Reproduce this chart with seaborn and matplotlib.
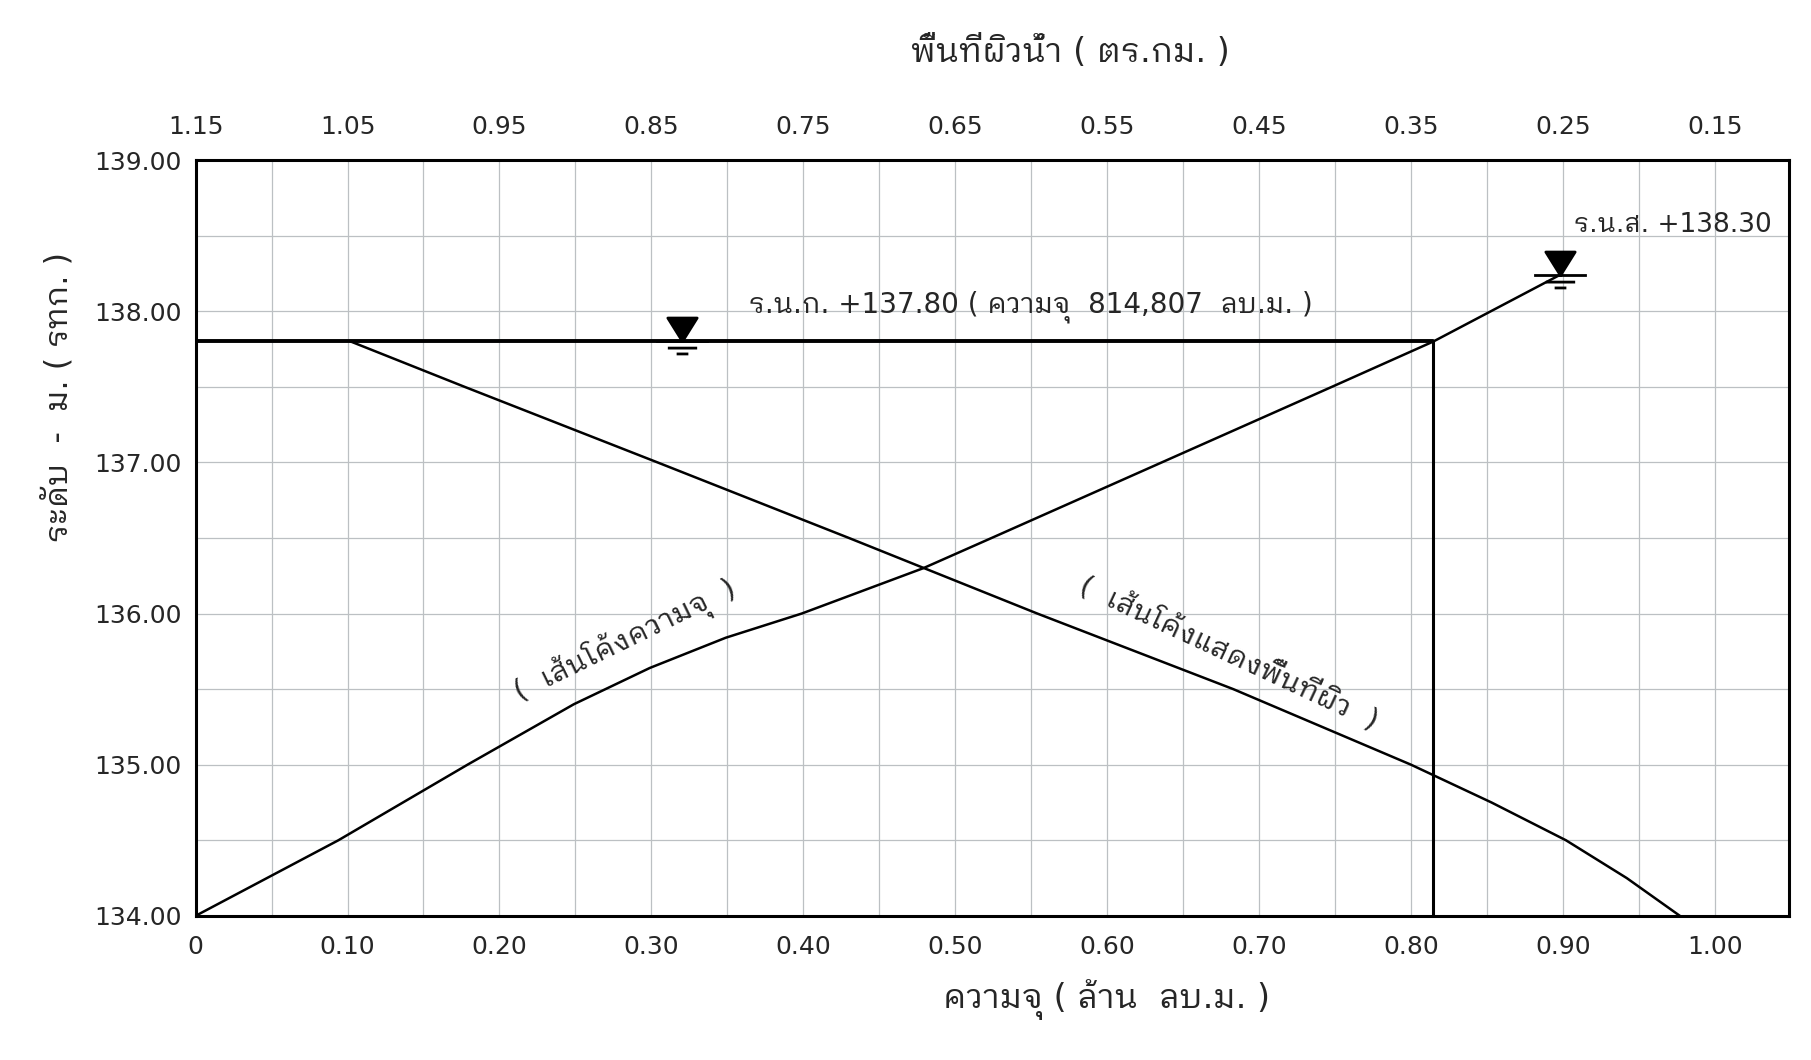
import numpy as np
import seaborn as sns
import matplotlib.pyplot as plt
from matplotlib import font_manager
from matplotlib.ft2font import FT2Font
from matplotlib.path import Path
from matplotlib.ticker import MultipleLocator, FormatStrFormatter

# ---- data ----
# capacity curve (million m3) vs level (m MSL)
cap_levels = [134.0, 134.5, 135.0, 135.4, 135.64, 135.84, 136.0, 136.3, 136.5,
              137.0, 137.5, 137.8, 138.24]
capacity = [0.0, 0.094, 0.179, 0.249, 0.299, 0.349, 0.399, 0.479, 0.524,
            0.636, 0.748, 0.8148, 0.898]

# water surface area curve (km2) vs level
area_levels = [134.0, 134.25, 134.5, 134.75, 135.0, 135.5, 136.0, 136.5, 137.0, 137.5, 137.8]
area = [0.173, 0.208, 0.248, 0.297, 0.350, 0.467, 0.596, 0.720, 0.846, 0.973, 1.048]

nrl_level = 137.80       # normal retention level
nrl_capacity = 0.8148    # 814,807 m3
mwl_level = 138.24       # where the max water level mark sits
mwl_capacity = 0.898
nrl_mark_x = 0.320

area_offset = 1.15       # top axis reads 1.15 - x
x_ticks = [0.0, 0.1, 0.2, 0.3, 0.4, 0.5, 0.6, 0.7, 0.8, 0.9, 1.0]
x_ticklabels = ["0", "0.10", "0.20", "0.30", "0.40", "0.50", "0.60", "0.70", "0.80", "0.90", "1.00"]
top_ticks = [1.15, 1.05, 0.95, 0.85, 0.75, 0.65, 0.55, 0.45, 0.35, 0.25, 0.15]
y_ticks = [134, 135, 136, 137, 138, 139]


def find_thai_font():
    names = []
    for f in font_manager.fontManager.ttflist:
        try:
            if 0x0E01 in FT2Font(f.fname).get_charmap():
                names.append(f.name)
        except Exception:
            pass
    prefer = ["Looped", "Loma", "Garuda", "Norasi", "Tlwg", "Thai"]

    def rank(n):
        for i, p in enumerate(prefer):
            if p in n:
                return (i, n)
        return (len(prefer), n)

    names.sort(key=rank)
    return names[0] if names else None


sns.set_theme(style="white")
thai = find_thai_font()
families = ["DejaVu Sans"]
if thai:
    families.append(thai)
plt.rcParams["font.family"] = families

fig = plt.figure(figsize=(18.11, 10.60), dpi=100)
ax = fig.add_axes([0.108, 0.136, 0.880, 0.713])

# grid
ax.xaxis.set_minor_locator(MultipleLocator(0.05))
ax.yaxis.set_minor_locator(MultipleLocator(0.5))
ax.grid(which="both", color="#bcc0c3", linewidth=0.9)
ax.set_axisbelow(True)

# curves
sns.lineplot(x=capacity, y=cap_levels, sort=False, estimator=None,
             color="black", linewidth=1.8, ax=ax)
area_x = [area_offset - a for a in area]
sns.lineplot(x=area_x, y=area_levels, sort=False, estimator=None,
             color="black", linewidth=1.8, ax=ax)

# normal retention level lines
ax.plot([0, nrl_capacity], [nrl_level, nrl_level], color="black", linewidth=2.8)
ax.plot([nrl_capacity, nrl_capacity], [134.0, nrl_level], color="black", linewidth=2.2)

# water level symbols (tip of the triangle at the level)
verts = [(-1, 1.6), (1, 1.6), (0, 0), (-1, 1.6),
         (-1.8, 0), (1.8, 0),
         (-1.0, -0.45), (1.0, -0.45),
         (-0.4, -0.85), (0.4, -0.85)]
codes = [Path.MOVETO, Path.LINETO, Path.LINETO, Path.CLOSEPOLY,
         Path.MOVETO, Path.LINETO,
         Path.MOVETO, Path.LINETO,
         Path.MOVETO, Path.LINETO]
wl_symbol = Path(verts, codes)
ax.plot([nrl_mark_x, mwl_capacity], [nrl_level, mwl_level], linestyle="none",
        marker=wl_symbol, markersize=38, color="black", markeredgewidth=2.0)

ax.text(0.364, 138.03, "ร.น.ก. +137.80 ( ความจุ  814,807  ลบ.ม. )",
        fontsize=20, ha="left", va="center")
ax.text(0.907, 138.57, "ร.น.ส. +138.30", fontsize=19, ha="left", va="center")
ax.text(0.283, 135.82, "(  เส้นโค้งความจุ  )", fontsize=21, rotation=26,
        ha="center", va="center", rotation_mode="anchor")
ax.text(0.680, 135.74, "(  เส้นโค้งแสดงพื้นที่ผิว  )", fontsize=21, rotation=-25,
        ha="center", va="center", rotation_mode="anchor")

# axes
ax.set_xlim(0, 1.049)
ax.set_ylim(134, 139)
ax.set_xticks(x_ticks)
ax.set_xticklabels(x_ticklabels)
ax.set_yticks(y_ticks)
ax.yaxis.set_major_formatter(FormatStrFormatter("%.2f"))
ax.tick_params(axis="both", which="both", length=0, labelsize=18)
ax.tick_params(axis="x", pad=14)
ax.tick_params(axis="y", pad=10)
for s in ax.spines.values():
    s.set_color("black")
    s.set_linewidth(2.2)

top = ax.secondary_xaxis("top", functions=(lambda v: area_offset - v,
                                           lambda v: area_offset - v))
top.set_xticks(top_ticks)
top.xaxis.set_major_formatter(FormatStrFormatter("%.2f"))
top.tick_params(length=0, labelsize=18, pad=15)
top.spines["top"].set_visible(False)

fig.text(0.591, 0.951, "พื้นที่ผิวน้ำ ( ตร.กม. )", fontsize=24, ha="center", va="center")
fig.text(0.611, 0.057, "ความจุ ( ล้าน  ลบ.ม. )", fontsize=24, ha="center", va="center")
fig.text(0.032, 0.625, "ระดับ  -  ม. ( รทก. )", fontsize=23, ha="center", va="center",
         rotation=90)

fig.savefig("out.png", dpi=100, facecolor="white")
